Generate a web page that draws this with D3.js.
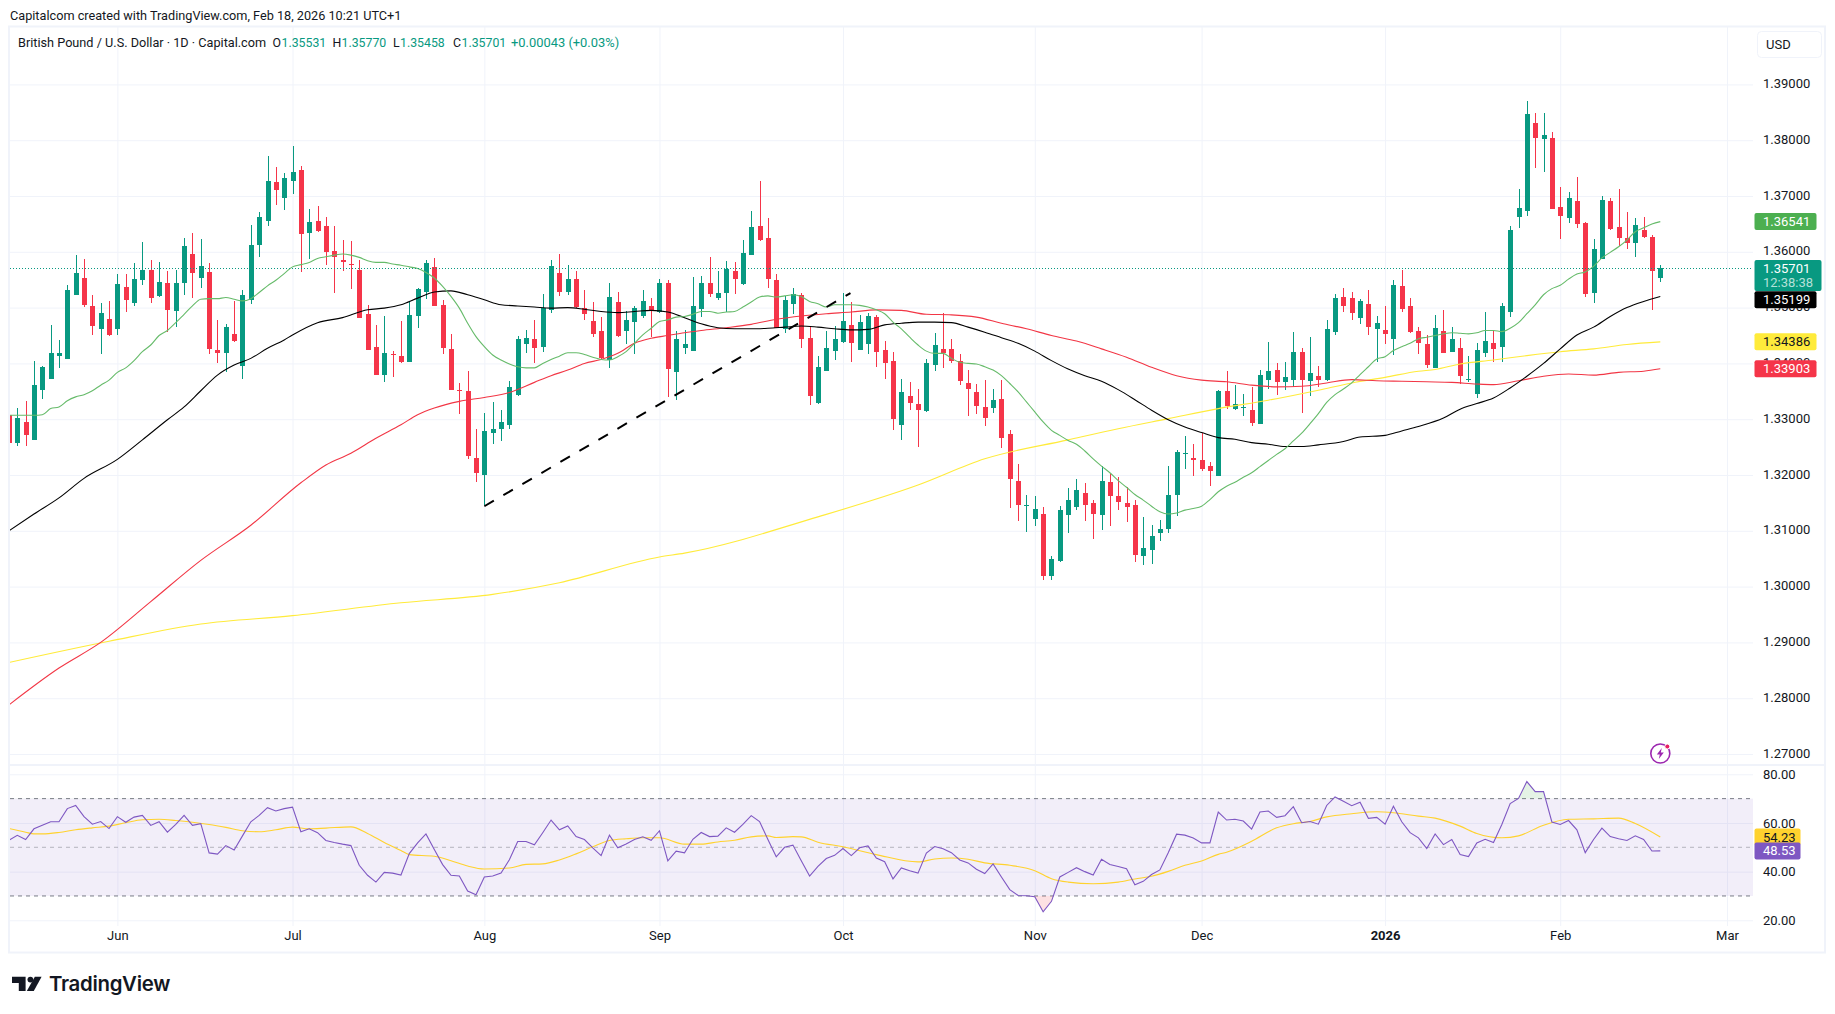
<!DOCTYPE html>
<html>
<head>
<meta charset="utf-8">
<script src="https://cdn.jsdelivr.net/npm/d3@7"></script>
<style>
    html, body { margin: 0; padding: 0; background: #fff; }
    svg { display: block; }
    text { font-family: Roboto, sans-serif; fill: #131722; }
    .axis path, .grid path { display: none; }
    .grid line { stroke: #f0f3fa; }
    .grid text { display: none; }
</style>
</head>
<body>
<div id="chart"></div>
<script>
// candles, one entry per trading day
const opens = [
    1.3307,1.3258,1.3295,1.3263,1.3352,1.3372,1.3413,1.3408,1.3522,1.3553,
    1.3503,1.3462,1.3479,1.3462,1.3537,1.3508,1.3549,1.3567,1.3521,1.3544,
    1.3494,1.3544,1.3596,1.3553,1.3564,1.3424,1.3419,1.3453,1.3395,1.3513,
    1.3612,1.3655,1.3725,1.3696,1.3727,1.3746,1.3633,1.3655,1.3646,1.3601,
    1.3585,1.3579,1.3567,1.3489,1.3430,1.3379,1.3417,1.3413,1.3403,1.3485,
    1.3528,1.3573,1.3505,1.3426,1.3353,1.3351,1.3231,1.3200,1.3276,1.3283,
    1.3290,1.3344,1.3435,1.3444,1.3430,1.3496,1.3562,1.3528,1.3551,1.3499,
    1.3476,1.3458,1.3406,1.3510,1.3458,1.3474,1.3485,1.3503,1.3492,1.3544,
    1.3384,1.3427,1.3422,1.3497,1.3544,1.3517,1.3527,1.3565,1.3542,1.3594,
    1.3646,1.3624,1.3549,1.3461,1.3506,1.3522,1.3445,1.3329,1.3386,1.3422,
    1.3438,1.3468,1.3424,1.3434,1.3483,1.3424,1.3404,1.3289,1.3341,1.3327,
    1.3314,1.3397,1.3425,1.3425,1.3404,1.3365,1.3348,1.3322,1.3320,1.3336,
    1.3273,1.3189,1.3146,1.3121,1.3131,1.3019,1.3045,1.3128,1.3142,1.3167,
    1.3149,1.3128,1.3187,1.3162,1.3149,1.3146,1.3054,1.3065,1.3096,1.3104,
    1.3164,1.3238,1.3230,1.3226,1.3216,1.3198,1.3350,1.3318,1.3320,1.3316,
    1.3291,1.3371,1.3389,1.3366,1.3370,1.3420,1.3368,1.3378,1.3371,1.3457,
    1.3519,1.3517,1.3482,1.3507,1.3462,1.3460,1.3444,1.3539,1.3503,1.3458,
    1.3435,1.3392,1.3458,1.3421,1.3428,1.3371,1.3346,1.3419,1.3437,1.3430,
    1.3492,1.3663,1.3673,1.3831,1.3802,1.3804,1.3680,1.3661,1.3691,1.3652,
    1.3526,1.3587,1.3691,1.3645,1.3625,1.3616,1.3639,1.3627,1.35531
];
const highs = [
    1.3307,1.3320,1.3333,1.3405,1.3395,1.3469,1.3442,1.3540,1.3594,1.3587,
    1.3522,1.3508,1.3512,1.3560,1.3560,1.3580,1.3617,1.3585,1.3581,1.3565,
    1.3567,1.3624,1.3633,1.3623,1.3580,1.3478,1.3470,1.3512,1.3531,1.3648,
    1.3671,1.3771,1.3752,1.3741,1.3789,1.3753,1.3676,1.3682,1.3662,1.3646,
    1.3621,1.3619,1.3585,1.3505,1.3469,1.3485,1.3422,1.3476,1.3510,1.3535,
    1.3585,1.3589,1.3514,1.3453,1.3365,1.3387,1.3283,1.3311,1.3331,1.3317,
    1.3369,1.3449,1.3460,1.3478,1.3524,1.3585,1.3596,1.3576,1.3566,1.3532,
    1.3510,1.3483,1.3544,1.3528,1.3494,1.3503,1.3532,1.3517,1.3551,1.3550,
    1.3458,1.3459,1.3554,1.3556,1.3590,1.3565,1.3583,1.3581,1.3621,1.3673,
    1.3726,1.3660,1.3560,1.3520,1.3536,1.3527,1.3467,1.3413,1.3458,1.3467,
    1.3527,1.3510,1.3486,1.3490,1.3486,1.3440,1.3420,1.3372,1.3366,1.3354,
    1.3408,1.3454,1.3490,1.3443,1.3416,1.3388,1.3363,1.3370,1.3354,1.3370,
    1.3280,1.3219,1.3165,1.3162,1.3142,1.3054,1.3144,1.3176,1.3192,1.3185,
    1.3156,1.3216,1.3201,1.3196,1.3178,1.3156,1.3124,1.3110,1.3119,1.3216,
    1.3244,1.3269,1.3255,1.3276,1.3223,1.3353,1.3386,1.3362,1.3346,1.3357,
    1.3389,1.3438,1.3400,1.3402,1.3456,1.3427,1.3447,1.3395,1.3478,1.3525,
    1.3535,1.3528,1.3516,1.3532,1.3485,1.3503,1.3550,1.3568,1.3517,1.3466,
    1.3451,1.3487,1.3496,1.3466,1.3446,1.3414,1.3437,1.3492,1.3460,1.3509,
    1.3646,1.3713,1.3870,1.3849,1.3849,1.3815,1.3716,1.3707,1.3734,1.3654,
    1.3623,1.3700,1.3697,1.3713,1.3671,1.3661,1.3663,1.3630,1.35770
];
const lows = [
    1.3258,1.3252,1.3252,1.3263,1.3337,1.3372,1.3392,1.3408,1.3522,1.3501,
    1.3451,1.3417,1.3450,1.3451,1.3492,1.3503,1.3540,1.3508,1.3519,1.3456,
    1.3465,1.3522,1.3517,1.3535,1.3417,1.3401,1.3384,1.3438,1.3372,1.3507,
    1.3590,1.3646,1.3684,1.3675,1.3703,1.3564,1.3587,1.3635,1.3576,1.3526,
    1.3566,1.3533,1.3481,1.3424,1.3379,1.3367,1.3376,1.3401,1.3403,1.3464,
    1.3516,1.3503,1.3417,1.3353,1.3310,1.3229,1.3188,1.3146,1.3256,1.3261,
    1.3283,1.3342,1.3419,1.3401,1.3421,1.3490,1.3521,1.3523,1.3499,1.3478,
    1.3447,1.3408,1.3392,1.3447,1.3435,1.3417,1.3481,1.3447,1.3490,1.3339,
    1.3334,1.3416,1.3422,1.3483,1.3519,1.3513,1.3493,1.3524,1.3540,1.3594,
    1.3619,1.3535,1.3463,1.3454,1.3488,1.3427,1.3325,1.3327,1.3386,1.3406,
    1.3436,1.3402,1.3424,1.3416,1.3393,1.3372,1.3280,1.3262,1.3316,1.3250,
    1.3313,1.3386,1.3391,1.3400,1.3361,1.3305,1.3309,1.3288,1.3311,1.3248,
    1.3140,1.3117,1.3097,1.3108,1.3011,1.3011,1.3044,1.3096,1.3137,1.3117,
    1.3085,1.3101,1.3108,1.3137,1.3115,1.3044,1.3038,1.3040,1.3081,1.3096,
    1.3126,1.3210,1.3198,1.3207,1.3180,1.3198,1.3319,1.3316,1.3305,1.3287,
    1.3291,1.3355,1.3343,1.3353,1.3357,1.3312,1.3341,1.3357,1.3369,1.3451,
    1.3492,1.3478,1.3471,1.3451,1.3403,1.3435,1.3415,1.3492,1.3455,1.3417,
    1.3392,1.3392,1.3419,1.3421,1.3363,1.3367,1.3338,1.3412,1.3403,1.3403,
    1.3483,1.3643,1.3664,1.3750,1.3743,1.3677,1.3623,1.3652,1.3643,1.3519,
    1.3509,1.3587,1.3639,1.3611,1.3605,1.3591,1.3625,1.3496,1.35458
];
const closes = [
    1.3258,1.3302,1.3272,1.3361,1.3393,1.3419,1.3419,1.3531,1.3562,1.3504,
    1.3467,1.3490,1.3451,1.3542,1.3513,1.3551,1.3567,1.3517,1.3546,1.3496,
    1.3544,1.3610,1.3562,1.3574,1.3426,1.3419,1.3465,1.3440,1.3522,1.3612,
    1.3662,1.3727,1.3710,1.3732,1.3743,1.3632,1.3653,1.3637,1.3599,1.3590,
    1.3582,1.3578,1.3481,1.3424,1.3379,1.3419,1.3416,1.3403,1.3487,1.3533,
    1.3580,1.3503,1.3428,1.3353,1.3351,1.3234,1.3204,1.3279,1.3283,1.3295,
    1.3358,1.3444,1.3446,1.3428,1.3499,1.3575,1.3528,1.3551,1.3501,1.3489,
    1.3453,1.3410,1.3519,1.3449,1.3478,1.3499,1.3512,1.3496,1.3544,1.3390,
    1.3443,1.3434,1.3502,1.3544,1.3524,1.3527,1.3570,1.3551,1.3597,1.3644,
    1.3622,1.3551,1.3463,1.3513,1.3524,1.3443,1.3341,1.3393,1.3427,1.3443,
    1.3476,1.3436,1.3474,1.3485,1.3420,1.3400,1.3300,1.3348,1.3329,1.3316,
    1.3400,1.3433,1.3418,1.3404,1.3368,1.3354,1.3323,1.3302,1.3334,1.3267,
    1.3192,1.3147,1.3147,1.3139,1.3019,1.3049,1.3137,1.3155,1.3174,1.3147,
    1.3131,1.3190,1.3162,1.3151,1.3142,1.3056,1.3070,1.3090,1.3104,1.3164,
    1.3241,1.3239,1.3226,1.3210,1.3208,1.3350,1.3323,1.3327,1.3321,1.3294,
    1.3380,1.3386,1.3366,1.3375,1.3421,1.3371,1.3382,1.3371,1.3462,1.3517,
    1.3503,1.3491,1.3512,1.3466,1.3473,1.3453,1.3541,1.3498,1.3457,1.3437,
    1.3397,1.3464,1.3419,1.3444,1.3378,1.3372,1.3424,1.3440,1.3426,1.3503,
    1.3639,1.3679,1.3847,1.3804,1.3809,1.3677,1.3664,1.3697,1.3650,1.3525,
    1.3605,1.3693,1.3641,1.3625,1.3616,1.3648,1.3627,1.3566,1.35701
];

// short moving average, read bar by bar
const maGreen = [
    1.3307,1.3307,1.3307,1.3307,1.3308,1.3319,1.3322,1.3333,1.3340,1.3344,
    1.3351,1.3361,1.3370,1.3384,1.3392,1.3405,1.3421,1.3433,1.3450,1.3459,
    1.3473,1.3488,1.3503,1.3515,1.3516,1.3516,1.3518,1.3515,1.3512,1.3516,
    1.3527,1.3539,1.3549,1.3561,1.3573,1.3577,1.3581,1.3588,1.3591,1.3594,
    1.3596,1.3594,1.3590,1.3584,1.3581,1.3581,1.3578,1.3576,1.3573,1.3570,
    1.3563,1.3553,1.3538,1.3520,1.3499,1.3472,1.3448,1.3430,1.3415,1.3406,
    1.3399,1.3394,1.3392,1.3392,1.3400,1.3407,1.3413,1.3419,1.3419,1.3416,
    1.3411,1.3407,1.3406,1.3412,1.3421,1.3436,1.3451,1.3463,1.3475,1.3478,
    1.3483,1.3484,1.3488,1.3493,1.3493,1.3490,1.3492,1.3493,1.3501,1.3510,
    1.3519,1.3521,1.3519,1.3521,1.3523,1.3520,1.3511,1.3507,1.3501,1.3505,
    1.3505,1.3505,1.3504,1.3501,1.3496,1.3489,1.3474,1.3462,1.3447,1.3433,
    1.3422,1.3418,1.3418,1.3409,1.3402,1.3400,1.3399,1.3394,1.3388,1.3378,
    1.3364,1.3349,1.3331,1.3313,1.3295,1.3280,1.3271,1.3262,1.3255,1.3243,
    1.3229,1.3216,1.3204,1.3190,1.3178,1.3165,1.3155,1.3144,1.3134,1.3130,
    1.3132,1.3137,1.3140,1.3144,1.3156,1.3170,1.3180,1.3187,1.3196,1.3204,
    1.3215,1.3226,1.3237,1.3247,1.3261,1.3275,1.3292,1.3310,1.3330,1.3344,
    1.3354,1.3365,1.3380,1.3394,1.3408,1.3412,1.3423,1.3430,1.3436,1.3444,
    1.3447,1.3450,1.3453,1.3455,1.3454,1.3453,1.3455,1.3459,1.3459,1.3457,
    1.3463,1.3473,1.3489,1.3505,1.3523,1.3534,1.3540,1.3551,1.3560,1.3564,
    1.3574,1.3589,1.3599,1.3609,1.3621,1.3636,1.3643,1.3650,1.36541
];

// slower averages, read every few bars
const maBlackBars = [0,3,6,9,13,16,19,21,23,25,27,29,31,33,34,37,40,43,45,47,49,51,53,55,57,59,61,63,65,67,69,71,73,75,77,79,81,83,85,87,89,91,93,95,97,99,101,103,105,107,109,111,113,115,117,119,121,123,125,127,129,131,133,135,137,139,141,143,145,147,149,151,153,155,157,160,162,165,167,169,172,174,176,178,180,182,184,186,188,190,192,194,196,198];
const maBlack = [1.3100,1.3130,1.3159,1.3194,1.3228,1.3263,1.3299,1.3322,1.3351,1.3379,1.3397,1.3409,1.3427,1.3442,1.3451,1.3473,1.3482,1.3496,1.3499,1.3505,1.3517,1.3528,1.3530,1.3523,1.3514,1.3505,1.3503,1.3501,1.3499,1.3500,1.3497,1.3493,1.3491,1.3493,1.3495,1.3492,1.3482,1.3471,1.3464,1.3462,1.3462,1.3463,1.3465,1.3467,1.3465,1.3462,1.3460,1.3461,1.3469,1.3472,1.3474,1.3474,1.3473,1.3465,1.3456,1.3446,1.3436,1.3422,1.3405,1.3390,1.3378,1.3368,1.3353,1.3335,1.3316,1.3299,1.3286,1.3276,1.3267,1.3264,1.3258,1.3255,1.3251,1.3251,1.3254,1.3260,1.3268,1.3271,1.3279,1.3287,1.3302,1.3318,1.3328,1.3338,1.3356,1.3377,1.3400,1.3426,1.3451,1.3465,1.3484,1.3500,1.3511,1.35199];

const maRedBars = [0,6,11,17,23,29,35,38,41,44,47,49,51,54,57,60,63,65,67,69,71,73,75,77,79,81,83,86,89,92,95,98,101,104,107,110,113,116,119,122,125,128,131,134,137,140,143,146,149,152,155,158,161,164,167,170,173,176,178,181,184,187,190,193,196,198];
const maRed = [1.2788,1.2854,1.2900,1.2973,1.3047,1.3110,1.3186,1.3218,1.3239,1.3266,1.3290,1.3308,1.3320,1.3332,1.3339,1.3348,1.3366,1.3378,1.3388,1.3400,1.3407,1.3418,1.3436,1.3445,1.3450,1.3455,1.3459,1.3464,1.3470,1.3479,1.3485,1.3489,1.3492,1.3496,1.3495,1.3488,1.3487,1.3483,1.3472,1.3462,1.3450,1.3440,1.3426,1.3411,1.3393,1.3378,1.3370,1.3367,1.3361,1.3358,1.3359,1.3365,1.3371,1.3369,1.3368,1.3367,1.3366,1.3363,1.3362,1.3369,1.3377,1.3381,1.3379,1.3384,1.3386,1.33903];

const maYellowBars = [0,12,23,34,47,58,66,78,81,97,109,117,127,133,139,145,151,157,161,165,169,171,174,178,182,186,190,194,198];
const maYellow = [1.2864,1.2902,1.2933,1.2948,1.2971,1.2986,1.3007,1.3053,1.3060,1.3125,1.3182,1.3229,1.3263,1.3283,1.3301,1.3319,1.3334,1.3352,1.3365,1.3375,1.3386,1.3389,1.3399,1.3406,1.3414,1.3421,1.3426,1.3434,1.34386];

const rsiValues = [
    52.9,54.9,53.2,57.6,59.1,60.5,60.5,65.9,67.2,62.6,59.5,60.6,57.7,62.6,60.3,62.4,63.1,59.0,60.5,56.2,
    59.4,63.1,59.0,59.7,47.7,47.2,50.7,48.9,54.7,60.5,63.1,66.3,64.9,65.9,66.5,56.4,57.6,56.0,52.8,52.0,
    51.3,50.7,42.6,38.5,35.7,39.7,39.4,38.6,47.4,51.8,55.5,49.1,42.9,38.5,38.2,32.0,30.5,37.8,38.2,39.4,
    44.9,52.4,52.4,51.0,56.0,61.2,57.2,58.8,54.4,53.2,49.8,46.6,55.0,49.8,51.4,53.2,54.3,52.9,56.8,44.4,
    48.4,47.7,53.3,56.1,54.4,54.6,58.0,56.2,59.4,63.0,60.6,53.2,46.1,50.0,50.9,44.5,38.2,42.2,45.4,46.7,
    49.5,46.6,49.8,50.6,45.6,44.1,37.0,41.5,40.4,39.4,47.6,50.3,49.4,47.8,44.8,43.6,41.0,39.2,43.2,37.8,
    32.6,30.2,30.1,29.7,23.5,27.8,37.8,39.7,41.6,40.0,38.6,45.1,42.9,42.1,41.2,34.6,36.0,38.8,40.7,47.8,
    55.4,55.0,53.8,51.8,51.8,64.5,61.2,61.5,60.8,57.5,64.5,64.9,62.3,63.0,66.7,60.1,60.6,59.5,67.2,70.7,
    68.9,67.1,68.5,61.9,62.3,59.5,66.9,60.5,56.0,53.9,49.5,55.5,51.1,53.2,47.0,46.2,51.8,53.3,52.0,59.4,
    68.0,70.1,77.0,72.9,72.9,60.4,59.4,61.0,57.2,47.8,53.2,57.9,54.4,53.5,52.8,54.7,53.2,48.5,48.53
];
const rsiMaBars = [0,2,3,4,6,8,10,12,14,16,18,20,22,24,26,28,30,32,34,36,38,41,43,45,47,48,51,53,55,57,60,62,64,66,68,70,72,74,76,78,81,83,85,87,89,91,92,94,95,97,100,104,109,111,113,115,117,120,123,125,127,130,133,135,137,139,141,143,145,146,149,152,154,156,158,161,164,166,169,171,174,176,179,181,184,187,190,193,195,198];
const rsiMa = [57.7,56.2,55.5,55.5,56.1,57.2,58.0,58.7,60.1,61.3,61.5,61.0,60.3,59.4,58.2,56.8,56.4,57.2,58.3,57.6,57.9,58.4,55.7,52.0,48.7,47.0,46.3,44.5,42.3,41.1,41.5,43.0,43.2,44.8,47.3,50.2,52.8,53.5,53.9,53.9,51.3,51.3,52.2,52.9,54.3,54.7,54.0,54.4,54.3,52.1,50.2,47.0,44.0,45.2,45.6,45.1,43.6,42.6,40.4,37.1,35.7,35.0,35.7,37.0,38.1,40.1,42.6,44.4,47.1,48.0,52.5,58.0,59.7,60.6,62.5,63.8,64.6,64.2,62.8,62.0,58.7,55.7,53.9,54.7,59.1,61.5,61.7,62.0,59.8,54.23];

// dashed trend line drawn on the chart: bar and price of both ends
const trendBars = [57, 100.9];
const trendPrices = [1.3144, 1.3526];

const priceTicks = [1.39,1.38,1.37,1.36,1.35,1.34,1.33,1.32,1.31,1.30,1.29,1.28,1.27];
const rsiTicks = [80,60,40,20];
const rsiBands = [70,50,30];
const monthBars = [13,34,57,78,100,123,143,165,186,206];
const monthLabels = ['Jun','Jul','Aug','Sep','Oct','Nov','Dec','2026','Feb','Mar'];

const lastPrice = 1.35701;
const lastRsi = 48.53;
const lastRsiMa = 54.23;

const upColor = '#089981', downColor = '#f53549';

// layout
const paneLeft = 10, paneRight = 1753, paneTop = 27, paneBottom = 765, rsiBottom = 926;

const svg = d3.select('#chart')
    .append('svg')
    .attr('width', 1835)
    .attr('height', 1014);

const xScale = d3.scaleLinear().domain([0, 198]).range([8.96, 1660.3]);
const yScale = d3.scaleLinear().domain([1.27, 1.39]).range([754, 84.4]);
const rsiScale = d3.scaleLinear().domain([20, 80]).range([920.3, 774.3]);

svg.append('text').attr('x', 10).attr('y', 20).attr('font-size', 12.7)
    .text('Capitalcom created with TradingView.com, Feb 18, 2026 10:21 UTC+1');

// frame around the panes
svg.append('rect')
    .attr('x', 9).attr('y', 26.5)
    .attr('width', 1816).attr('height', 926)
    .attr('fill', 'none').attr('stroke', '#f0f3fa').attr('stroke-width', 2);
svg.append('line')
    .attr('x1', 9).attr('x2', 1825).attr('y1', 765).attr('y2', 765)
    .attr('stroke', '#f0f3fa').attr('stroke-width', 2);

const defs = svg.append('defs');
defs.append('clipPath').attr('id', 'pane').append('rect')
    .attr('x', paneLeft).attr('y', paneTop)
    .attr('width', paneRight - paneLeft).attr('height', paneBottom - paneTop);
defs.append('clipPath').attr('id', 'rsi').append('rect')
    .attr('x', paneLeft).attr('y', 766)
    .attr('width', paneRight - paneLeft).attr('height', rsiBottom - 766);
defs.append('clipPath').attr('id', 'above70').append('rect')
    .attr('x', paneLeft).attr('y', 766)
    .attr('width', paneRight - paneLeft).attr('height', rsiScale(70) - 766);
defs.append('clipPath').attr('id', 'below30').append('rect')
    .attr('x', paneLeft).attr('y', rsiScale(30))
    .attr('width', paneRight - paneLeft).attr('height', rsiBottom - rsiScale(30));

// grids
svg.append('g')
    .attr('class', 'grid')
    .attr('transform', `translate(${paneRight},0)`)
    .call(d3.axisLeft(yScale).tickValues(priceTicks).tickSize(paneRight - paneLeft).tickFormat(''));
svg.append('g')
    .attr('class', 'grid')
    .attr('transform', `translate(${paneRight},0)`)
    .call(d3.axisLeft(rsiScale).tickValues(rsiTicks).tickSize(paneRight - paneLeft).tickFormat(''));
svg.append('g')
    .attr('class', 'grid')
    .attr('transform', `translate(0,${paneBottom})`)
    .call(d3.axisBottom(xScale).tickValues(monthBars).tickSize(paneTop - paneBottom).tickFormat(''));
svg.append('g')
    .attr('class', 'grid')
    .attr('transform', `translate(0,${rsiBottom})`)
    .call(d3.axisBottom(xScale).tickValues(monthBars).tickSize(766 - rsiBottom).tickFormat(''));

// axes
const priceAxis = svg.append('g')
    .attr('class', 'axis')
    .attr('transform', `translate(${paneRight},-1)`)
    .call(d3.axisRight(yScale).tickValues(priceTicks).tickSize(0).tickPadding(10).tickFormat(d3.format('.5f')));
priceAxis.selectAll('text').attr('font-size', 13).attr('font-family', 'Roboto');

const rsiAxis = svg.append('g')
    .attr('class', 'axis')
    .attr('transform', `translate(${paneRight},0)`)
    .call(d3.axisRight(rsiScale).tickValues(rsiTicks).tickSize(0).tickPadding(10).tickFormat(d3.format('.2f')));
rsiAxis.selectAll('text').attr('font-size', 13).attr('font-family', 'Roboto');

const timeAxis = svg.append('g')
    .attr('class', 'axis')
    .attr('transform', `translate(0,${rsiBottom})`)
    .call(d3.axisBottom(xScale).tickValues(monthBars).tickSize(0).tickPadding(5)
        .tickFormat((d, i) => monthLabels[i]));
timeAxis.selectAll('text').attr('font-size', 13).attr('font-family', 'Roboto')
    .attr('font-weight', (d, i) => monthLabels[i] === '2026' ? 700 : 400);

// candles
const bars = d3.range(opens.length);
const chart = svg.append('g').attr('clip-path', 'url(#pane)');

chart.selectAll('.wick')
    .data(bars)
    .join('rect')
    .attr('class', 'wick')
    .attr('shape-rendering', 'crispEdges')
    .attr('x', d => Math.round(xScale(d)) - 0.5)
    .attr('width', 1)
    .attr('y', d => yScale(highs[d]))
    .attr('height', d => yScale(lows[d]) - yScale(highs[d]))
    .attr('fill', d => closes[d] >= opens[d] ? upColor : downColor);

chart.selectAll('.body')
    .data(bars)
    .join('rect')
    .attr('class', 'body')
    .attr('shape-rendering', 'crispEdges')
    .attr('x', d => Math.round(xScale(d)) - 2.5)
    .attr('width', 5)
    .attr('y', d => yScale(Math.max(opens[d], closes[d])))
    .attr('height', d => Math.max(1, Math.abs(yScale(opens[d]) - yScale(closes[d]))))
    .attr('fill', d => closes[d] >= opens[d] ? upColor : downColor);

// moving averages
const maLine = d3.line()
    .x(d => xScale(d[0]))
    .y(d => yScale(d[1]))
    .curve(d3.curveMonotoneX);

function drawMa(barList, values, color) {
    chart.append('path')
        .datum(values.map((v, i) => [barList[i], v]))
        .attr('d', maLine)
        .attr('fill', 'none')
        .attr('stroke', color)
        .attr('stroke-width', 1.1);
}
drawMa(maYellowBars, maYellow, '#ffeb3b');
drawMa(maRedBars, maRed, '#f23645');
drawMa(maBlackBars, maBlack, '#000');
drawMa(bars, maGreen, '#66bb6a');

// trend line
chart.append('line')
    .attr('x1', xScale(trendBars[0])).attr('y1', yScale(trendPrices[0]))
    .attr('x2', xScale(trendBars[1])).attr('y2', yScale(trendPrices[1]))
    .attr('stroke', '#000').attr('stroke-width', 2)
    .attr('stroke-dasharray', '11 11');

// last price line
svg.append('line')
    .attr('x1', paneLeft).attr('x2', paneRight)
    .attr('y1', Math.round(yScale(lastPrice)) + 0.5).attr('y2', Math.round(yScale(lastPrice)) + 0.5)
    .attr('stroke', upColor).attr('stroke-dasharray', '1 2');

// rsi pane
svg.append('rect')
    .attr('x', paneLeft).attr('width', paneRight - paneLeft)
    .attr('y', rsiScale(70)).attr('height', rsiScale(30) - rsiScale(70))
    .attr('fill', '#7e57c2').attr('fill-opacity', 0.1);

svg.selectAll('.rsi-band')
    .data(rsiBands)
    .join('line')
    .attr('class', 'rsi-band')
    .attr('x1', paneLeft).attr('x2', paneRight)
    .attr('y1', d => rsiScale(d)).attr('y2', d => rsiScale(d))
    .attr('stroke', '#787b86')
    .attr('stroke-opacity', d => d === 50 ? 0.5 : 1)
    .attr('stroke-dasharray', '4 4');

const rsiRows = rsiValues.map((v, i) => [i, v]);
svg.append('path')
    .datum(rsiRows)
    .attr('clip-path', 'url(#above70)')
    .attr('fill', '#4caf50').attr('fill-opacity', 0.15)
    .attr('d', d3.area().x(d => xScale(d[0])).y0(rsiScale(70)).y1(d => rsiScale(d[1])));
svg.append('path')
    .datum(rsiRows)
    .attr('clip-path', 'url(#below30)')
    .attr('fill', '#f23645').attr('fill-opacity', 0.15)
    .attr('d', d3.area().x(d => xScale(d[0])).y0(rsiScale(30)).y1(d => rsiScale(d[1])));

const rsiPanel = svg.append('g').attr('clip-path', 'url(#rsi)');

rsiPanel.append('path')
    .datum(rsiMaBars.map((b, i) => [b, rsiMa[i]]))
    .attr('fill', 'none').attr('stroke', '#ffd22e').attr('stroke-width', 1.1)
    .attr('d', d3.line().x(d => xScale(d[0])).y(d => rsiScale(d[1])).curve(d3.curveMonotoneX));
rsiPanel.append('path')
    .datum(rsiRows)
    .attr('fill', 'none').attr('stroke', '#7e57c2').attr('stroke-width', 1.1)
    .attr('d', d3.line().x(d => xScale(d[0])).y(d => rsiScale(d[1])));

// flash icon over the last bar
const flash = svg.append('g').attr('transform', `translate(${xScale(198)},753.5)`);
flash.append('circle').attr('r', 9.5).attr('fill', '#fff').attr('stroke', '#9c27b0').attr('stroke-width', 1.6);
flash.append('path').attr('d', 'M1.5,-5.5 L-3.5,1 L-0.5,1 L-1.5,5.5 L3.5,-1 L0.5,-1 Z').attr('fill', '#9c27b0');
flash.append('circle').attr('cx', 7).attr('cy', -7).attr('r', 2.5).attr('fill', '#e91e63').attr('stroke', '#fff');

// value tags on the right scale
function tagBox(y0, y1, w, fill) {
    svg.append('rect')
        .attr('x', paneRight + 1.5).attr('y', y0)
        .attr('width', w).attr('height', y1 - y0)
        .attr('rx', 2)
        .attr('fill', fill);
}
function tagText(y, label, color) {
    svg.append('text')
        .attr('x', paneRight + 10).attr('y', y + 4.5)
        .attr('font-size', 13)
        .style('fill', color)
        .text(label);
}
function tag(y, w, fill, label, color) {
    tagBox(y - 8.5, y + 8.5, w, fill);
    tagText(y, label, color);
}
tag(yScale(1.36541), 62, '#4caf50', '1.36541', '#fff');
tagBox(260, 291, 67, upColor);
tagText(268.7, lastPrice.toFixed(5), '#fff');
tagText(282.7, '12:38:38', '#b5e0d8');
tag(299.7, 62, '#000', '1.35199', '#fff');
tag(yScale(1.34386), 62, '#ffeb3b', '1.34386', '#131722');
tag(yScale(1.33903), 62, downColor, '1.33903', '#fff');
tag(rsiScale(lastRsiMa), 46, '#ffd22e', lastRsiMa.toFixed(2), '#131722');
tag(rsiScale(lastRsi), 46, '#7e57c2', lastRsi.toFixed(2), '#fff');

// USD button
svg.append('rect')
    .attr('x', 1757.5).attr('y', 31.5).attr('width', 64).attr('height', 26).attr('rx', 4)
    .attr('fill', '#fff').attr('stroke', '#f0f3fa');
svg.append('text').attr('x', 1766).attr('y', 48.5).attr('font-size', 13).text('USD');

// legend
const legendItems = [
    [18, 'British Pound / U.S. Dollar · 1D · Capital.com', '#131722', 12.7],
    [272.5, 'O', '#131722', 12.3], [281.5, '1.35531', upColor, 12.3],
    [332.5, 'H', '#131722', 12.3], [341.5, '1.35770', upColor, 12.3],
    [393, 'L', '#131722', 12.3], [400, '1.35458', upColor, 12.3],
    [453, 'C', '#131722', 12.3], [461.5, '1.35701', upColor, 12.3],
    [511, '+0.00043 (+0.03%)', upColor, 12.9]
];
svg.selectAll('.legend')
    .data(legendItems)
    .join('text')
    .attr('class', 'legend')
    .attr('x', d => d[0])
    .attr('y', 47)
    .attr('font-size', d => d[3])
    .style('fill', d => d[2])
    .text(d => d[1]);

// logo
const logo = svg.append('g').attr('fill', '#131722');
logo.append('path').attr('d', 'M12,976.7 H25.6 V991 H18.8 V983 H12 Z');
logo.append('circle').attr('cx', 30.4).attr('cy', 979.6).attr('r', 2.9);
logo.append('path').attr('d', 'M34.8,976.7 H41.6 L33.8,991 H26.8 Z');
svg.append('text')
    .attr('x', 49).attr('y', 990.5)
    .attr('font-weight', 600)
    .attr('font-size', 20.4)
    .attr('letter-spacing', -0.3)
    .style('font-family', 'Inter, sans-serif')
    .text('TradingView');
</script>
</body>
</html>
